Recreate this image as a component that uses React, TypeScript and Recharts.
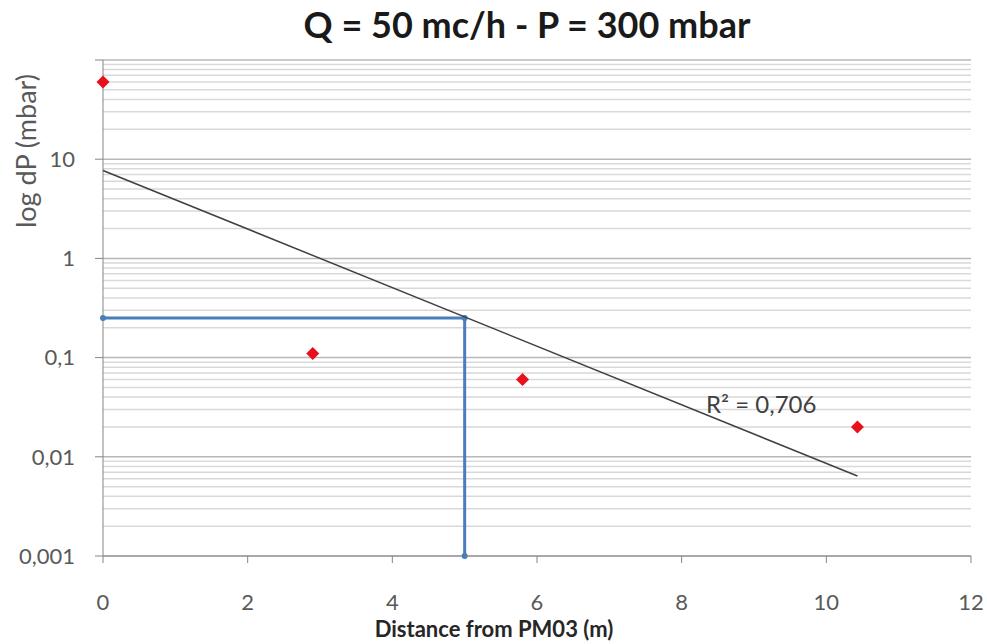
import {
  ScatterChart,
  Scatter,
  XAxis,
  YAxis,
  CartesianGrid,
  ReferenceLine,
  ReferenceDot,
} from "recharts";

// measured pressure drops (red diamonds)
const distance = [0, 2.9, 5.8, 10.43];
const dP = [60, 0.11, 0.06, 0.02];

// exponential trend line end points
const trendDistance = [0, 10.43];
const trendDP = [7.7, 0.0064];

// blue reading lines (0 -> 5 m at 0.25 mbar, then down)
const readDistance = [0, 5, 5];
const readDP = [0.25, 0.25, 0.001];

const xTicks = [0, 2, 4, 6, 8, 10, 12];
const yTicks = [0.001, 0.01, 0.1, 1, 10, 100];
const minorSteps = [2, 3, 4, 5, 6, 7, 8, 9];

const points = distance.map((x, i) => ({ x, y: dP[i] }));
const trend = trendDistance.map((x, i) => ({ x, y: trendDP[i] }));
const reading = readDistance.map((x, i) => ({ x, y: readDP[i] }));
const minorLines = yTicks
  .slice(0, -1)
  .flatMap((d) => minorSteps.map((k) => +(k * d).toPrecision(3)));

const FONT = "Lato, 'Open Sans', sans-serif";

const Diamond = (p: any) => {
  const { cx, cy } = p;
  const r = 6.5;
  return (
    <polygon
      points={`${cx},${cy - r} ${cx + r},${cy} ${cx},${cy + r} ${cx - r},${cy}`}
      fill="#e8101a"
    />
  );
};

const BlueDot = (p: any) => <circle cx={p.cx} cy={p.cy} r={3} fill="#4a7ebb" />;

const NoDot = () => <g />;

const fmt = (v: number) => (v === 100 ? "" : String(v).replace(".", ","));

export default function App() {
  return (
    <div style={{ position: "absolute", left: 0, top: 0, width: 987, height: 644, background: "#fff", fontFamily: FONT }}>
      <div
        style={{
          position: "absolute",
          left: 527,
          top: 24,
          transform: "translate(-50%, -50%)",
          whiteSpace: "nowrap",
          fontSize: 36,
          fontWeight: 700,
          color: "#1a1a1a",
        }}
      >
        Q = 50 mc/h - P = 300 mbar
      </div>
      <div
        style={{
          position: "absolute",
          left: 25,
          top: 151,
          transform: "translate(-50%, -50%) rotate(-90deg)",
          whiteSpace: "nowrap",
          fontSize: 27,
          color: "#595959",
        }}
      >
        log dP (mbar)
      </div>
      <div
        style={{
          position: "absolute",
          left: 494,
          top: 628,
          transform: "translate(-50%, -50%)",
          whiteSpace: "nowrap",
          fontSize: 22,
          fontWeight: 700,
          color: "#262626",
        }}
      >
        Distance from PM03 (m)
      </div>
      <ScatterChart width={987} height={644} margin={{ top: 60, right: 16, bottom: 0, left: 33 }}>
        {minorLines.map((v) => (
          <ReferenceLine key={v} y={v} stroke="#d9d9d9" strokeWidth={1.5} />
        ))}
        <CartesianGrid vertical={false} stroke="#b8b8b8" strokeWidth={1.5} />
        <XAxis
          type="number"
          dataKey="x"
          domain={[0, 12]}
          ticks={xTicks}
          height={88}
          stroke="#868686"
          tickSize={7}
          tickMargin={31}
          tick={{ fill: "#595959", fontSize: 22, fontFamily: FONT }}
        />
        <YAxis
          type="number"
          dataKey="y"
          scale="log"
          domain={[0.001, 100]}
          ticks={yTicks}
          tickFormatter={fmt}
          width={70}
          stroke="#868686"
          tickSize={8}
          tickMargin={20}
          tick={{ fill: "#595959", fontSize: 22, fontFamily: FONT }}
        />
        <Scatter
          data={reading}
          line={{ stroke: "#4a7ebb", strokeWidth: 3 }}
          shape={BlueDot}
          isAnimationActive={false}
        />
        <Scatter
          data={trend}
          line={{ stroke: "#404040", strokeWidth: 1.5 }}
          shape={NoDot}
          isAnimationActive={false}
        />
        <Scatter data={points} shape={Diamond} isAnimationActive={false} />
        <ReferenceDot
          x={9.1}
          y={0.034}
          r={0}
          fill="none"
          stroke="none"
          label={{ value: "R² = 0,706", position: "center", fill: "#404040", fontSize: 24, fontFamily: FONT }}
        />
      </ScatterChart>
    </div>
  );
}
